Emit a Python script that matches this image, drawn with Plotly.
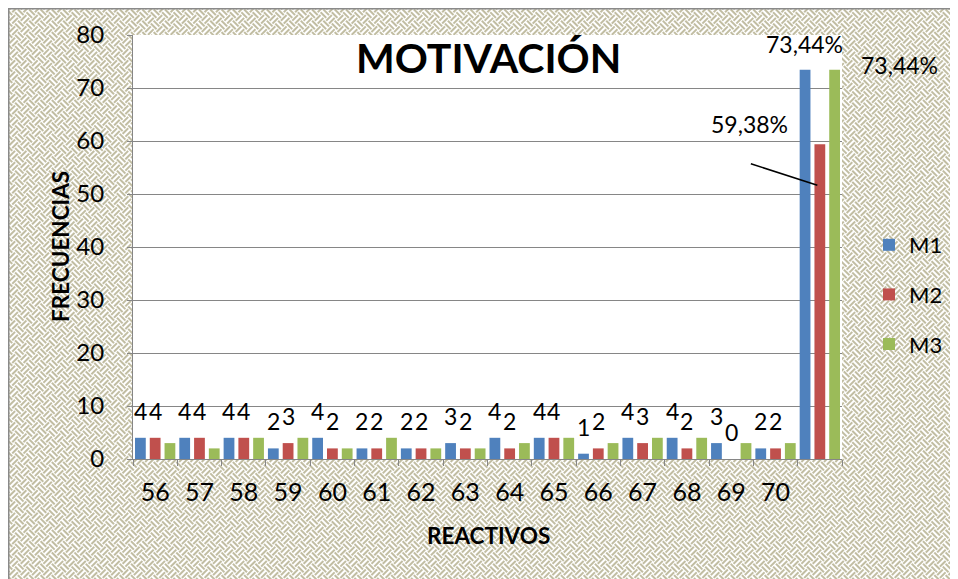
# core
import base64

# dependencies
import plotly.graph_objects as go	# plots

# data
categories = ['56', '57', '58', '59', '60', '61', '62', '63', '64', '65', '66', '67', '68', '69', '70', ' ']
m1 = [4, 4, 4, 2, 4, 2, 2, 3, 4, 4, 1, 4, 4, 3, 2, 73.44]
m2 = [4, 4, 4, 3, 2, 2, 2, 2, 2, 4, 2, 3, 2, 0, 2, 59.38]
m3 = [3, 2, 4, 4, 2, 4, 2, 2, 3, 4, 3, 4, 4, 3, 3, 73.44]
series_names = ['M1', 'M2', 'M3']
pct_labels = ['73,44%', '59,38%', '73,44%']

# figure geometry (page body adds an 8px margin, so the figure is shifted back by it)
OFF = 8
W, H = 958 - OFF, 579 - OFF
L, T = 133 - OFF, 35 - OFF
PW, PH = 709, 424
R, B = W - L - PW, H - T - PH
FONT = 'Lato'
COLORS = ['#4F81BD', '#C0504D', '#9BBB59']
GRID = '#868686'


def px_x(x):
	# screen pixel -> paper coordinate
	return (x - OFF - L) / PW


def px_y(y):
	return (T + PH - (y - OFF)) / PH


# patterned chart background as an svg
svg = f'''<svg xmlns="http://www.w3.org/2000/svg" width="{W}" height="{H}" viewBox="0 0 {W} {H}">
<defs><pattern id="w" width="16" height="16" patternUnits="userSpaceOnUse" patternTransform="rotate(45)">
<rect width="16" height="16" fill="#ffffff"/>
<g stroke="#ada783" stroke-width="1.5">
<path d="M0 2 H8 M0 6 H8"/>
<path d="M10 0 V8 M14 0 V8"/>
<path d="M2 8 V16 M6 8 V16"/>
<path d="M8 10 H16 M8 14 H16"/>
</g></pattern></defs>
<rect width="{W}" height="{H}" fill="url(#w)"/>
<rect x="{L}" y="{T}" width="{PW}" height="{PH}" fill="#ffffff"/>
<path d="M0.75 {H} V0.75 H{W}" stroke="#8a8a8a" stroke-width="1.5" fill="none"/>
</svg>'''
bg_uri = 'data:image/svg+xml;base64,' + base64.b64encode(svg.encode()).decode()

# create figure
fig = go.Figure()
for name, values, color in zip(series_names, [m1, m2, m3], COLORS):
	fig.add_trace(go.Bar(
		x=categories,
		y=values,
		name=name,
		legendgroup=name,
		marker={'color': color, 'line': {'width': 0}},
	))

# value labels for M1 and M2 (x is the category index)
annotations = []
for values, shift in [(m1, -14.8), (m2, 0)]:
	for i, v in enumerate(values[:-1]):
		annotations.append({
			'x': i, 'y': v, 'xshift': shift, 'yshift': 27,
			'text': str(v), 'showarrow': False,
			'font': {'family': FONT, 'size': 23, 'color': 'black'},
		})

# percentage labels on the last group
last = len(categories) - 1
annotations += [
	{'x': last, 'y': m1[-1], 'xshift': -15, 'yshift': 26, 'text': pct_labels[0]},
	{'x': last, 'y': m2[-1], 'xshift': -70, 'yshift': 20, 'text': pct_labels[1]},
	{'x': last, 'y': m3[-1], 'xshift': 80, 'yshift': 5, 'text': pct_labels[2]},
]
for a in annotations[-3:]:
	a.update({'showarrow': False, 'font': {'family': FONT, 'size': 23, 'color': 'black'}})

# leader line for the M2 label
annotations.append({
	'x': last, 'y': m2[-1], 'xshift': -2.5, 'yshift': -41, 'text': '',
	'showarrow': True, 'arrowhead': 0, 'arrowwidth': 1.5, 'arrowcolor': 'black',
	'ax': -68, 'ay': -22, 'standoff': 0, 'startstandoff': 0,
})

# titles
annotations += [
	{'x': px_x(488), 'y': px_y(57), 'xref': 'paper', 'yref': 'paper', 'text': '<b>MOTIVACIÓN</b>',
		'xanchor': 'center', 'yanchor': 'middle',
		'showarrow': False, 'font': {'family': FONT, 'size': 41, 'color': 'black'}},
	{'x': px_x(60), 'y': px_y(247), 'xref': 'paper', 'yref': 'paper', 'text': '<b>FRECUENCIAS</b>',
		'xanchor': 'center', 'yanchor': 'middle',
		'textangle': -90, 'showarrow': False, 'font': {'family': FONT, 'size': 22.5, 'color': 'black'}},
	{'x': px_x(488), 'y': px_y(535), 'xref': 'paper', 'yref': 'paper', 'text': '<b>REACTIVOS</b>',
		'xanchor': 'center', 'yanchor': 'middle',
		'showarrow': False, 'font': {'family': FONT, 'size': 22.5, 'color': 'black'}},
]

# configure layout
fig.update_layout(
	width=W,
	height=H,
	margin={'l': L, 'r': R, 't': T, 'b': B, 'pad': 0, 'autoexpand': False},
	paper_bgcolor='white',
	plot_bgcolor='white',
	bargap=0.0,
	bargroupgap=0.27,
	font={'family': FONT, 'color': 'black'},
	annotations=annotations,
	images=[{
		'source': bg_uri, 'xref': 'paper', 'yref': 'paper',
		'x': -L / PW, 'y': 1 + T / PH, 'sizex': W / PW, 'sizey': H / PH,
		'xanchor': 'left', 'yanchor': 'top', 'sizing': 'stretch', 'layer': 'below',
	}],
	legend={
		'x': px_x(869), 'y': px_y(224), 'xanchor': 'left', 'yanchor': 'top',
		'bgcolor': 'rgba(0,0,0,0)', 'font': {'family': FONT, 'size': 22, 'color': 'black'},
		'traceorder': 'grouped', 'tracegroupgap': 18,
	},
)
fig.update_xaxes(
	type='category', range=[-0.5, len(categories) - 0.5], automargin=False,
	showline=True, linecolor=GRID, linewidth=1,
	ticks='outside', tickson='boundaries', ticklen=6, tickcolor=GRID,
	tickfont={'family': FONT, 'size': 25, 'color': 'black'},
	tickangle=0, ticklabelstandoff=11,
	showgrid=False,
)
fig.update_yaxes(
	range=[0, 80], dtick=10, automargin=False,
	showline=True, linecolor=GRID, linewidth=1,
	showgrid=True, gridcolor=GRID, gridwidth=1,
	ticks='outside', ticklen=5, tickcolor=GRID,
	tickfont={'family': FONT, 'size': 24, 'color': 'black'},
	ticklabelstandoff=18,
	zeroline=False,
)

fig.write_html('out.html')
